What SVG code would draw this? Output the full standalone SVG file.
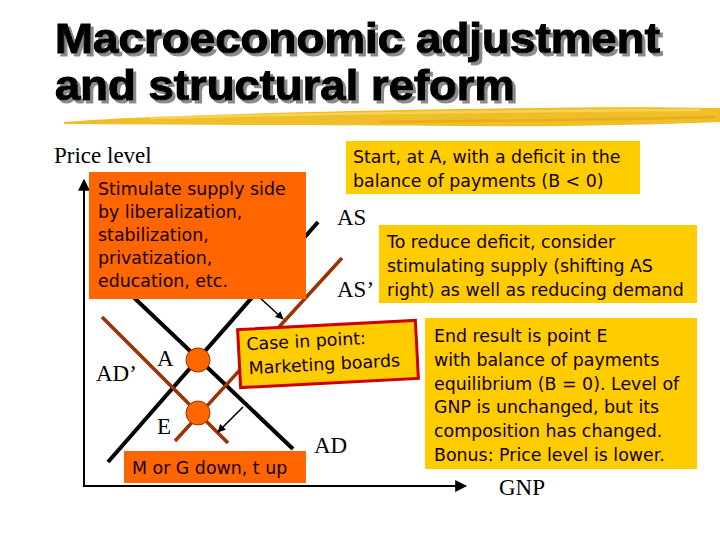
<svg xmlns="http://www.w3.org/2000/svg" width="720" height="540" viewBox="0 0 720 540">
<style>
.title{font-family:"Liberation Sans",Arial,sans-serif;font-weight:bold;font-size:43px;stroke-width:1.2px;fill:#000;stroke:#000}
.tx{font-family:"DejaVu Sans",Verdana,sans-serif;font-size:17.4px;fill:#140000}
.serif{font-family:"Liberation Serif","Times New Roman",serif;font-size:23px;fill:#000}
.orange{fill:#FF6600}
.yellow{fill:#FFCC00}
.blk{stroke:#000;stroke-width:4;fill:none;stroke-linecap:butt}
.brn{stroke:#993300;stroke-width:3.5;fill:none}
.axis{stroke:#000;stroke-width:2;fill:none}
.arr{stroke:#000;stroke-width:1.6;fill:none}
.pt{fill:#FF6600;stroke:#993300;stroke-width:1}
</style>
<defs>
<filter id="shadow" x="-5%" y="-20%" width="110%" height="150%">
<feOffset in="SourceAlpha" dx="3" dy="3" result="off"/>
<feFlood flood-color="#8a8a8a"/>
<feComposite in2="off" operator="in" result="sh"/>
<feMerge><feMergeNode in="sh"/><feMergeNode in="SourceGraphic"/></feMerge>
</filter>
<marker id="ah" viewBox="0 0 10 10" refX="9" refY="5" markerWidth="5" markerHeight="5" orient="auto" markerUnits="strokeWidth">
<path d="M0,0 L10,5 L0,10 Z" fill="#000"/>
</marker>
<marker id="ah2" viewBox="0 0 10 10" refX="9" refY="5" markerWidth="6" markerHeight="6" orient="auto" markerUnits="strokeWidth">
<path d="M0,0 L10,5 L0,10 Z" fill="#000"/>
</marker>
</defs>

<g id="title">
<g filter="url(#shadow)">
<text class="title" x="55" y="53" textLength="605" lengthAdjust="spacingAndGlyphs">Macroeconomic adjustment</text>
<text class="title" x="55" y="100" textLength="460" lengthAdjust="spacingAndGlyphs">and structural reform</text>
</g>
<path d="M64,122 C120,117 250,113 400,110 C520,108 620,106 720,108 L720,122 C640,125 560,127 460,126 C340,125 200,125 64,124 Z" fill="#EFBE28"/>
<path d="M150,118 C300,114 450,111 700,110" stroke="#F8D860" stroke-width="2.5" fill="none" opacity="0.8"/>
<path d="M380,122 C480,121 600,120 715,117" stroke="#E2A812" stroke-width="2.5" fill="none" opacity="0.7"/>
</g>

<g id="axes">
<line class="axis" x1="84" y1="486" x2="84" y2="180" marker-end="url(#ah2)"/>
<line class="axis" x1="83" y1="486" x2="466" y2="486" marker-end="url(#ah2)"/>
</g>

<g id="curves">
<line class="blk" x1="126" y1="290" x2="293" y2="449"/>
<line class="blk" x1="108" y1="462" x2="318" y2="222"/>
<line class="brn" x1="102" y1="317" x2="228" y2="443"/>
<line class="brn" x1="175" y1="441" x2="342" y2="258"/>
</g>

<g id="connectors">
<line class="arr" x1="258" y1="296" x2="283" y2="319" marker-end="url(#ah)"/>
<line class="arr" x1="243" y1="407" x2="218" y2="432" marker-end="url(#ah)"/>
</g>

<g id="pointA"><circle class="pt" cx="198" cy="360" r="12"/></g>
<g id="pointE"><circle class="pt" cx="198" cy="413" r="12"/></g>

<g id="labels">
<text class="serif" x="54" y="163">Price level</text>
<text class="serif" x="337" y="225">AS</text>
<text class="serif" x="337" y="297">AS’</text>
<text class="serif" x="96" y="381">AD’</text>
<text class="serif" x="157" y="366">A</text>
<text class="serif" x="157" y="434">E</text>
<text class="serif" x="314" y="453">AD</text>
<text class="serif" x="499" y="495">GNP</text>
</g>

<g id="supplyBox">
<rect class="orange" x="89" y="172" width="217" height="127"/>
<text class="tx" x="98" y="195">Stimulate supply side</text>
<text class="tx" x="98" y="218">by liberalization,</text>
<text class="tx" x="98" y="241">stabilization,</text>
<text class="tx" x="98" y="264">privatization,</text>
<text class="tx" x="98" y="287">education, etc.</text>
</g>

<g id="startBox">
<rect class="yellow" x="346" y="141" width="294" height="53"/>
<text class="tx" x="353" y="163">Start, at A, with a deficit in the</text>
<text class="tx" x="353" y="187">balance of payments (B &lt; 0)</text>
</g>

<g id="reduceBox">
<rect class="yellow" x="379" y="225" width="318" height="78"/>
<text class="tx" x="387" y="248">To reduce deficit, consider</text>
<text class="tx" x="387" y="272">stimulating supply (shifting AS</text>
<text class="tx" x="387" y="296">right) as well as reducing demand</text>
</g>

<g id="caseBox" transform="rotate(-3 328 354)">
<rect class="yellow" x="239" y="325" width="178" height="58" stroke="#CC0000" stroke-width="3"/>
<text class="tx" x="247" y="346">Case in point:</text>
<text class="tx" x="248" y="370">Marketing boards</text>
</g>

<g id="endBox">
<rect class="yellow" x="425" y="318" width="272" height="151"/>
<text class="tx" x="434" y="342">End result is point E</text>
<text class="tx" x="434" y="366">with balance of payments</text>
<text class="tx" x="434" y="390">equilibrium (B = 0). Level of</text>
<text class="tx" x="434" y="413">GNP is unchanged, but its</text>
<text class="tx" x="434" y="437">composition has changed.</text>
<text class="tx" x="434" y="461">Bonus: Price level is lower.</text>
</g>

<g id="demandBox">
<rect class="orange" x="124" y="451" width="182" height="32"/>
<text class="tx" x="132" y="474">M or G down, t up</text>
</g>
</svg>
